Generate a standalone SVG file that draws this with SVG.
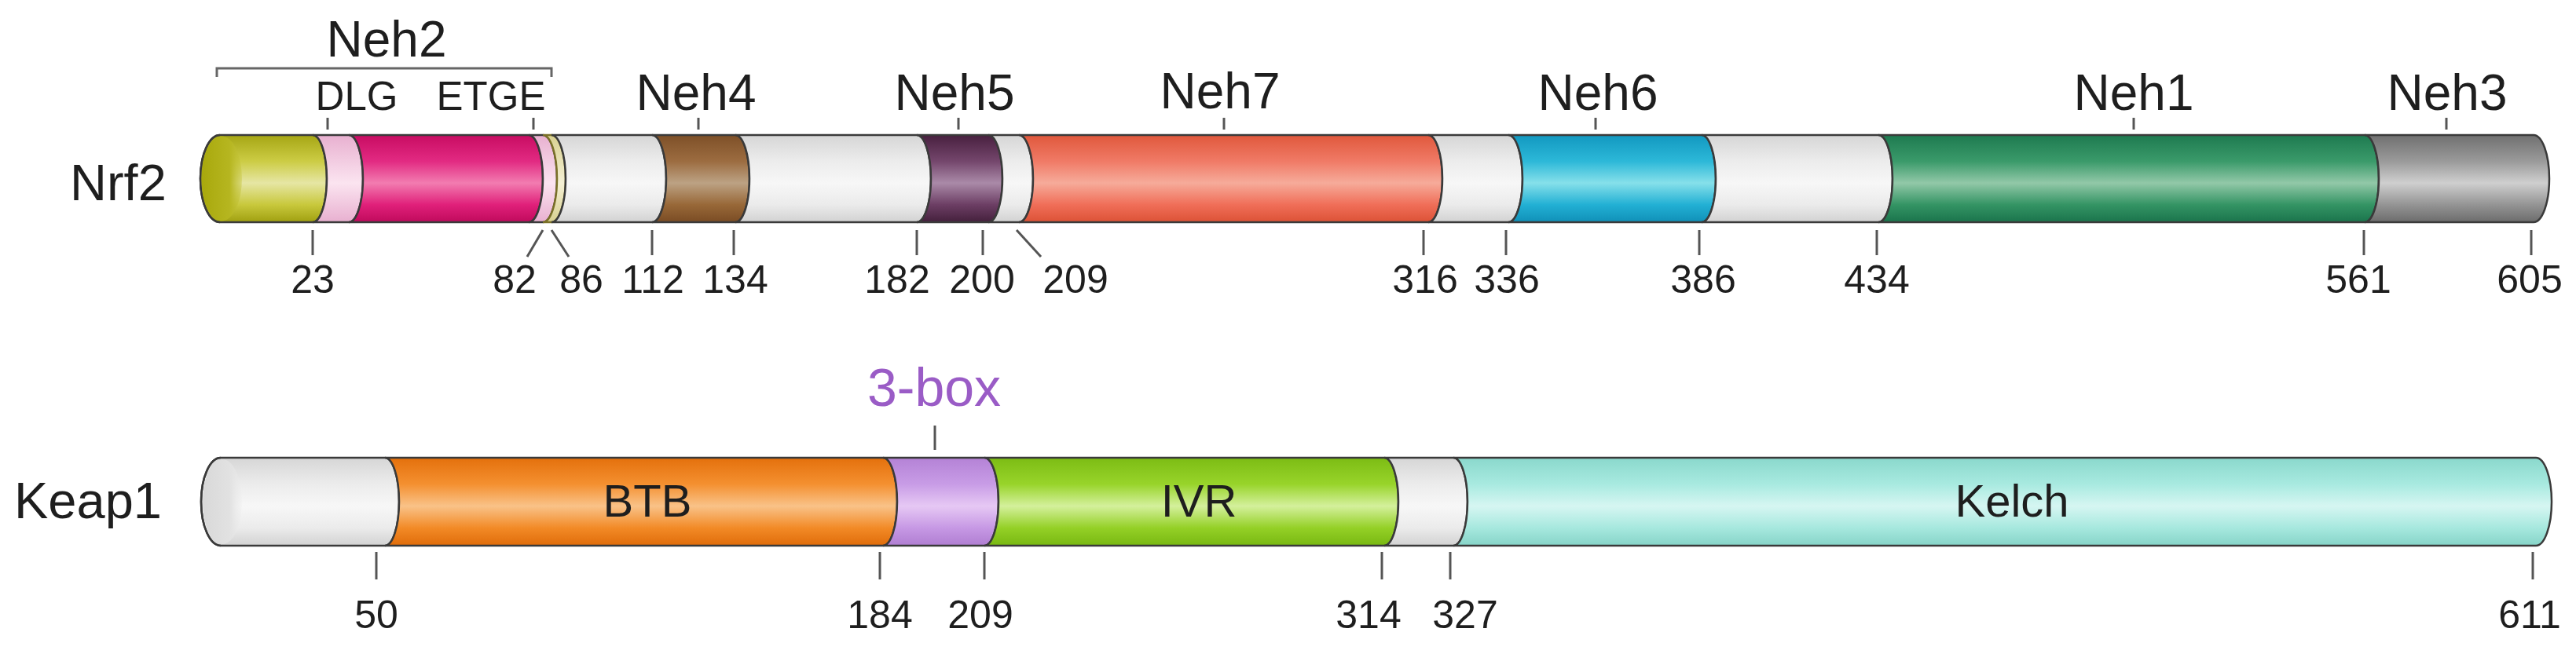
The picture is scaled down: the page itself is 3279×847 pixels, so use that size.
<svg xmlns="http://www.w3.org/2000/svg" width="3279" height="847" viewBox="0 0 3279 847">
<style>
text{font-family:"Liberation Sans",Arial,Helvetica,sans-serif;fill:#1e1e1e}
.lbl{font-size:64px;text-anchor:middle}
.sub{font-size:51px;text-anchor:middle}
.num{font-size:50px;text-anchor:middle}
.dom{font-size:58px;text-anchor:middle}
.name{font-size:65px}
.seg{stroke:#3a3a3a;stroke-width:2.5}
.tk{stroke:#555;stroke-width:3;fill:none}
</style>
<defs>
<linearGradient id="gYel" x1="0" y1="0" x2="0" y2="1"><stop offset="0" stop-color="#a6a614"/><stop offset="0.3" stop-color="#cccc44"/><stop offset="0.55" stop-color="#e6e6a4"/><stop offset="0.8" stop-color="#c8c83c"/><stop offset="1" stop-color="#a0a010"/></linearGradient>
<linearGradient id="gPnk" x1="0" y1="0" x2="0" y2="1"><stop offset="0" stop-color="#e8b0d0"/><stop offset="0.55" stop-color="#fbe4f0"/><stop offset="1" stop-color="#e8b0d0"/></linearGradient>
<linearGradient id="gMag" x1="0" y1="0" x2="0" y2="1"><stop offset="0" stop-color="#c80c62"/><stop offset="0.3" stop-color="#e22a82"/><stop offset="0.55" stop-color="#f27cb0"/><stop offset="0.8" stop-color="#e0207a"/><stop offset="1" stop-color="#c00a5c"/></linearGradient>
<linearGradient id="gOli" x1="0" y1="0" x2="0" y2="1"><stop offset="0" stop-color="#d8d090"/><stop offset="0.55" stop-color="#f4f0d4"/><stop offset="1" stop-color="#d8d090"/></linearGradient>
<linearGradient id="gWht" x1="0" y1="0" x2="0" y2="1"><stop offset="0" stop-color="#d6d6d6"/><stop offset="0.3" stop-color="#ececec"/><stop offset="0.55" stop-color="#f7f7f7"/><stop offset="0.8" stop-color="#ebebeb"/><stop offset="1" stop-color="#d2d2d2"/></linearGradient>
<linearGradient id="gBrn" x1="0" y1="0" x2="0" y2="1"><stop offset="0" stop-color="#7e5028"/><stop offset="0.3" stop-color="#9c6c40"/><stop offset="0.55" stop-color="#bca284"/><stop offset="0.8" stop-color="#986838"/><stop offset="1" stop-color="#7a4c24"/></linearGradient>
<linearGradient id="gPur" x1="0" y1="0" x2="0" y2="1"><stop offset="0" stop-color="#48203f"/><stop offset="0.3" stop-color="#74466c"/><stop offset="0.55" stop-color="#aa8aa8"/><stop offset="0.8" stop-color="#6c3e64"/><stop offset="1" stop-color="#44203c"/></linearGradient>
<linearGradient id="gSal" x1="0" y1="0" x2="0" y2="1"><stop offset="0" stop-color="#e0583c"/><stop offset="0.3" stop-color="#f07a66"/><stop offset="0.55" stop-color="#f6ab9a"/><stop offset="0.8" stop-color="#f06e58"/><stop offset="1" stop-color="#dc5236"/></linearGradient>
<linearGradient id="gCyn" x1="0" y1="0" x2="0" y2="1"><stop offset="0" stop-color="#1298c0"/><stop offset="0.3" stop-color="#2cb8d8"/><stop offset="0.55" stop-color="#86e0ea"/><stop offset="0.8" stop-color="#22b0d4"/><stop offset="1" stop-color="#1090b8"/></linearGradient>
<linearGradient id="gGrn" x1="0" y1="0" x2="0" y2="1"><stop offset="0" stop-color="#1e7a50"/><stop offset="0.3" stop-color="#3a9a6a"/><stop offset="0.55" stop-color="#92c8a8"/><stop offset="0.8" stop-color="#349464"/><stop offset="1" stop-color="#1a744c"/></linearGradient>
<linearGradient id="gGry" x1="0" y1="0" x2="0" y2="1"><stop offset="0" stop-color="#707070"/><stop offset="0.3" stop-color="#9a9a9a"/><stop offset="0.55" stop-color="#cfcfcf"/><stop offset="0.8" stop-color="#949494"/><stop offset="1" stop-color="#6c6c6c"/></linearGradient>
<linearGradient id="gOrg" x1="0" y1="0" x2="0" y2="1"><stop offset="0" stop-color="#e4700c"/><stop offset="0.3" stop-color="#f49030"/><stop offset="0.55" stop-color="#f9c288"/><stop offset="0.8" stop-color="#f28a26"/><stop offset="1" stop-color="#e06c0a"/></linearGradient>
<linearGradient id="gLil" x1="0" y1="0" x2="0" y2="1"><stop offset="0" stop-color="#b482d6"/><stop offset="0.3" stop-color="#c89ce6"/><stop offset="0.55" stop-color="#e6c8f4"/><stop offset="0.8" stop-color="#c698e4"/><stop offset="1" stop-color="#b07ed2"/></linearGradient>
<linearGradient id="gLim" x1="0" y1="0" x2="0" y2="1"><stop offset="0" stop-color="#7cbc14"/><stop offset="0.3" stop-color="#98d42a"/><stop offset="0.55" stop-color="#d4f09c"/><stop offset="0.8" stop-color="#94d026"/><stop offset="1" stop-color="#78b812"/></linearGradient>
<linearGradient id="gAqu" x1="0" y1="0" x2="0" y2="1"><stop offset="0" stop-color="#8ad8cc"/><stop offset="0.3" stop-color="#a8eae0"/><stop offset="0.55" stop-color="#d6f6f2"/><stop offset="0.8" stop-color="#a6e8de"/><stop offset="1" stop-color="#86d4c8"/></linearGradient>
<linearGradient id="gFaceY" x1="0" y1="0" x2="1" y2="0"><stop offset="0" stop-color="#a8a80c"/><stop offset="0.7" stop-color="#b6b620"/><stop offset="1" stop-color="#c4c43a" stop-opacity="0.4"/></linearGradient>
<linearGradient id="gFaceW" x1="0" y1="0" x2="1" y2="0"><stop offset="0" stop-color="#d8d8d8"/><stop offset="0.7" stop-color="#e2e2e2"/><stop offset="1" stop-color="#ececec" stop-opacity="0.3"/></linearGradient>
</defs>

<rect x="0" y="0" width="3279" height="847" fill="#ffffff"/>

<!-- Nrf2 protein -->
<g id="nrf2">
<text class="name" x="89" y="255">Nrf2</text>
<g id="nrf2-seg">
<path class="seg" fill="url(#gYel)" d="M280 172 L398 172 A18 55.5 0 0 1 398 283 L280 283 A25 55.5 0 0 1 280 172 Z"/>
<ellipse cx="282" cy="227.5" rx="26" ry="54" fill="url(#gFaceY)"/>
<path fill="none" stroke="#3a3a3a" stroke-width="2.5" d="M280 283 A25 55.5 0 0 1 280 172"/>
<path class="seg" fill="url(#gPnk)" d="M398 172 L444 172 A18 55.5 0 0 1 444 283 L398 283 A18 55.5 0 0 0 398 172 Z"/>
<path class="seg" fill="url(#gMag)" d="M444 172 L673 172 A18 55.5 0 0 1 673 283 L444 283 A18 55.5 0 0 0 444 172 Z"/>
<path class="seg" fill="url(#gPnk)" d="M673 172 L691 172 A18 55.5 0 0 1 691 283 L673 283 A18 55.5 0 0 0 673 172 Z"/>
<path fill="url(#gOli)" stroke="#7a7028" stroke-width="2.5" d="M691 172 L702 172 A18 55.5 0 0 1 702 283 L691 283 A18 55.5 0 0 0 691 172 Z"/>
<path class="seg" fill="url(#gWht)" d="M702 172 L830 172 A18 55.5 0 0 1 830 283 L702 283 A18 55.5 0 0 0 702 172 Z"/>
<path class="seg" fill="url(#gBrn)" d="M830 172 L936 172 A18 55.5 0 0 1 936 283 L830 283 A18 55.5 0 0 0 830 172 Z"/>
<path class="seg" fill="url(#gWht)" d="M936 172 L1167 172 A18 55.5 0 0 1 1167 283 L936 283 A18 55.5 0 0 0 936 172 Z"/>
<path class="seg" fill="url(#gPur)" d="M1167 172 L1258 172 A18 55.5 0 0 1 1258 283 L1167 283 A18 55.5 0 0 0 1167 172 Z"/>
<path class="seg" fill="url(#gWht)" d="M1258 172 L1297 172 A18 55.5 0 0 1 1297 283 L1258 283 A18 55.5 0 0 0 1258 172 Z"/>
<path class="seg" fill="url(#gSal)" d="M1297 172 L1818 172 A18 55.5 0 0 1 1818 283 L1297 283 A18 55.5 0 0 0 1297 172 Z"/>
<path class="seg" fill="url(#gWht)" d="M1818 172 L1920 172 A18 55.5 0 0 1 1920 283 L1818 283 A18 55.5 0 0 0 1818 172 Z"/>
<path class="seg" fill="url(#gCyn)" d="M1920 172 L2166 172 A18 55.5 0 0 1 2166 283 L1920 283 A18 55.5 0 0 0 1920 172 Z"/>
<path class="seg" fill="url(#gWht)" d="M2166 172 L2391 172 A18 55.5 0 0 1 2391 283 L2166 283 A18 55.5 0 0 0 2166 172 Z"/>
<path class="seg" fill="url(#gGrn)" d="M2391 172 L3010 172 A18 55.5 0 0 1 3010 283 L2391 283 A18 55.5 0 0 0 2391 172 Z"/>
<path class="seg" fill="url(#gGry)" d="M3010 172 L3225 172 A20 55.5 0 0 1 3225 283 L3010 283 A18 55.5 0 0 0 3010 172 Z"/>
</g>
<g id="nrf2-labels">
<text class="lbl" x="492" y="72">Neh2</text>
<text class="sub" x="454" y="140">DLG</text>
<text class="sub" x="625" y="140">ETGE</text>
<text class="lbl" x="886" y="140">Neh4</text>
<text class="lbl" x="1215" y="140">Neh5</text>
<text class="lbl" x="1553" y="138">Neh7</text>
<text class="lbl" x="2034" y="140">Neh6</text>
<text class="lbl" x="2716" y="140">Neh1</text>
<text class="lbl" x="3115" y="140">Neh3</text>
</g>
<g id="nrf2-numbers">
<text class="num" x="398" y="373">23</text>
<text class="num" x="655" y="373">82</text>
<text class="num" x="740" y="373">86</text>
<text class="num" x="831" y="373">112</text>
<text class="num" x="936" y="373">134</text>
<text class="num" x="1142" y="373">182</text>
<text class="num" x="1250" y="373">200</text>
<text class="num" x="1369" y="373">209</text>
<text class="num" x="1814" y="373">316</text>
<text class="num" x="1918" y="373">336</text>
<text class="num" x="2168" y="373">386</text>
<text class="num" x="2389" y="373">434</text>
<text class="num" x="3002" y="373">561</text>
<text class="num" x="3220" y="373">605</text>
</g>
</g>

<!-- Keap1 protein -->
<g id="keap1">
<text class="name" x="18" y="660">Keap1</text>
<g id="keap1-seg">
<path class="seg" fill="url(#gWht)" d="M281 583 L490 583 A18 56 0 0 1 490 695 L281 695 A25 56 0 0 1 281 583 Z"/>
<ellipse cx="283" cy="639" rx="25" ry="54" fill="url(#gFaceW)"/>
<path fill="none" stroke="#3a3a3a" stroke-width="2.5" d="M281 695 A25 56 0 0 1 281 583"/>
<path class="seg" fill="url(#gOrg)" d="M490 583 L1124 583 A18 56 0 0 1 1124 695 L490 695 A18 56 0 0 0 490 583 Z"/>
<path class="seg" fill="url(#gLil)" d="M1124 583 L1253 583 A18 56 0 0 1 1253 695 L1124 695 A18 56 0 0 0 1124 583 Z"/>
<path class="seg" fill="url(#gLim)" d="M1253 583 L1762 583 A18 56 0 0 1 1762 695 L1253 695 A18 56 0 0 0 1253 583 Z"/>
<path class="seg" fill="url(#gWht)" d="M1762 583 L1850 583 A18 56 0 0 1 1850 695 L1762 695 A18 56 0 0 0 1762 583 Z"/>
<path class="seg" fill="url(#gAqu)" d="M1850 583 L3228 583 A20 56 0 0 1 3228 695 L1850 695 A18 56 0 0 0 1850 583 Z"/>
</g>
<g id="keap1-labels">
<text class="dom" x="824" y="658">BTB</text>
<text class="dom" x="1526" y="658">IVR</text>
<text class="dom" x="2561" y="658">Kelch</text>
<text x="1189" y="517" style="font-size:68px;text-anchor:middle;fill:#9a5cc6">3-box</text>
</g>
<g id="keap1-numbers">
<text class="num" x="479" y="800">50</text>
<text class="num" x="1120" y="800">184</text>
<text class="num" x="1248" y="800">209</text>
<text class="num" x="1742" y="800">314</text>
<text class="num" x="1865" y="800">327</text>
<text class="num" x="3220" y="800">611</text>
</g>
</g>

<!-- connectors: ticks and bracket -->
<g id="connectors" class="tk">
<path d="M276 98 L276 87 L702 87 L702 98" stroke="#666"/>
<line x1="417" y1="150" x2="417" y2="165"/>
<line x1="679" y1="150" x2="679" y2="165"/>
<line x1="889" y1="150" x2="889" y2="165"/>
<line x1="1220" y1="150" x2="1220" y2="165"/>
<line x1="1558" y1="150" x2="1558" y2="165"/>
<line x1="2031" y1="150" x2="2031" y2="165"/>
<line x1="2716" y1="150" x2="2716" y2="165"/>
<line x1="3114" y1="150" x2="3114" y2="165"/>
<line x1="398" y1="293" x2="398" y2="325"/>
<line x1="691" y1="293" x2="671" y2="327"/>
<line x1="702" y1="293" x2="724" y2="327"/>
<line x1="830" y1="293" x2="830" y2="325"/>
<line x1="934" y1="293" x2="934" y2="325"/>
<line x1="1167" y1="293" x2="1167" y2="325"/>
<line x1="1251" y1="293" x2="1251" y2="325"/>
<line x1="1294" y1="293" x2="1325" y2="327"/>
<line x1="1812" y1="293" x2="1812" y2="325"/>
<line x1="1917" y1="293" x2="1917" y2="325"/>
<line x1="2163" y1="293" x2="2163" y2="325"/>
<line x1="2389" y1="293" x2="2389" y2="325"/>
<line x1="3009" y1="293" x2="3009" y2="325"/>
<line x1="3222" y1="293" x2="3222" y2="325"/>
<line x1="1190" y1="542" x2="1190" y2="573"/>
<line x1="479" y1="703" x2="479" y2="738"/>
<line x1="1120" y1="703" x2="1120" y2="738"/>
<line x1="1253" y1="703" x2="1253" y2="738"/>
<line x1="1759" y1="703" x2="1759" y2="738"/>
<line x1="1846" y1="703" x2="1846" y2="738"/>
<line x1="3224" y1="703" x2="3224" y2="738"/>
</g>
</svg>
